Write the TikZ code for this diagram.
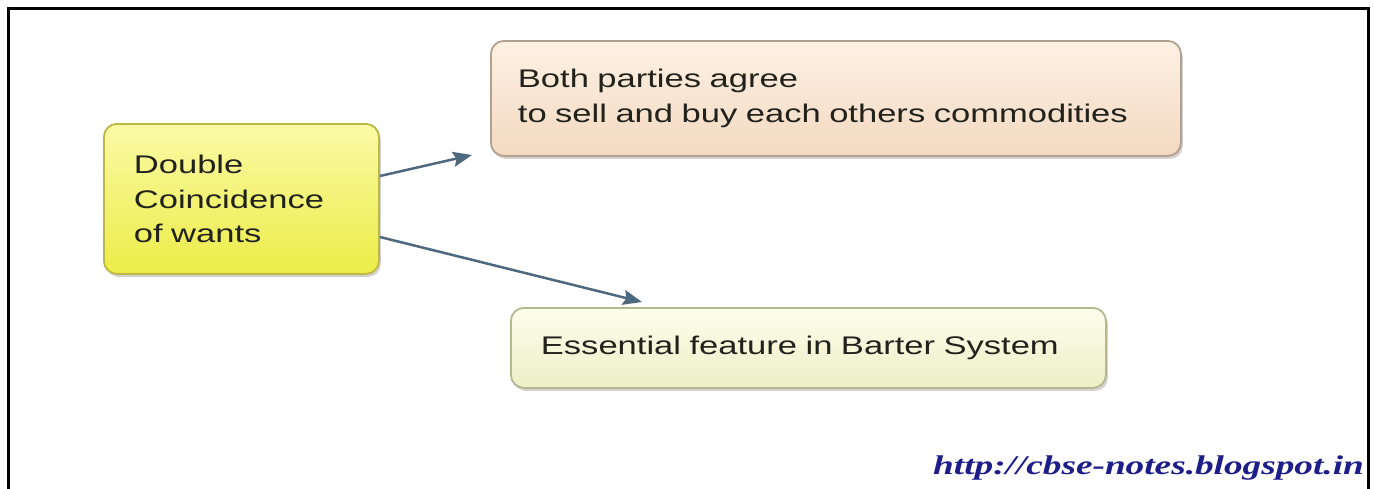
\documentclass[tikz,border=0pt]{standalone}
\usepackage{fontspec}
\setmainfont{Liberation Sans}
\newfontfamily\boxfont[FakeStretch=1.355]{Liberation Sans}
\newfontfamily\urlfont[FakeStretch=1.38]{Liberation Serif}
\usetikzlibrary{shadows,arrows.meta}
\definecolor{framec}{HTML}{000000}
\definecolor{arrowc}{HTML}{4E687E}
\definecolor{textc}{HTML}{22221C}
\definecolor{ytop}{HTML}{FAFAA6}
\definecolor{ybot}{HTML}{ECEC48}
\definecolor{ybrd}{HTML}{BDB846}
\definecolor{ptop}{HTML}{FDF1E4}
\definecolor{pbot}{HTML}{F3D9C0}
\definecolor{pbrd}{HTML}{B4A08E}
\definecolor{gtop}{HTML}{FDFDEC}
\definecolor{gbot}{HTML}{EDEFC6}
\definecolor{gbrd}{HTML}{B6B890}
\definecolor{urlc}{HTML}{1E1E8A}
\tikzset{
  boxbase/.style={rounded corners=13pt, line width=1.8pt, anchor=north west,
    align=left, inner ysep=0pt, text=textc,
    font=\boxfont\fontsize{25.5}{34.5}\selectfont,
    drop shadow={shadow xshift=2pt, shadow yshift=-3pt, opacity=0.35, fill=gray}},
  ybox/.style={boxbase, draw=ybrd, top color=ytop, bottom color=ybot},
  pbox/.style={boxbase, draw=pbrd, top color=ptop, bottom color=pbot},
  gbox/.style={boxbase, draw=gbrd, top color=gtop, bottom color=gbot},
  arr/.style={draw=arrowc, line width=2.5pt, -{Stealth[length=19pt,width=15pt,inset=3pt]}},
  framel/.style={draw=framec, line width=3pt}
}
\begin{document}
\begin{tikzpicture}[x=1pt,y=-1pt]
\useasboundingbox (0,0) rectangle (1374,488);
\fill[white] (0,0) rectangle (1374,488);
% frame
\coordinate (fbl) at (8.5,490);
\coordinate (ftl) at (8.5,8.5);
\coordinate (ftr) at (1368,8.5);
\coordinate (fbr) at (1368,490);
\draw[framel] (fbl) -- (ftl) -- (ftr) -- (fbr);
% boxes
\node[ybox, minimum width=275pt, minimum height=150pt, text width=215pt, inner xsep=30pt] (dc) at (103,123) {Double\\Coincidence\\of wants};
\node[pbox, minimum width=690pt, minimum height=115pt, text width=636pt, inner xsep=27pt] (bp) at (490,40) {Both parties agree\\to sell and buy each others commodities};
\node[gbox, minimum width=595pt, minimum height=80pt, text width=535pt, inner xsep=30pt] (ef) at (510,307) {Essential feature in Barter System};
% arrows
\coordinate (a1s) at (380,176);
\coordinate (a1e) at (472,155);
\coordinate (a2s) at (380,237);
\coordinate (a2e) at (642,302);
\draw[arr] (a1s) -- (a1e);
\draw[arr] (a2s) -- (a2e);
% url
\node[anchor=base east, text=urlc, inner sep=0pt, font=\urlfont\bfseries\itshape\fontsize{27}{30}\selectfont] (url) at (1364,474) {http://cbse-notes.blogspot.in};
\end{tikzpicture}
\end{document}
